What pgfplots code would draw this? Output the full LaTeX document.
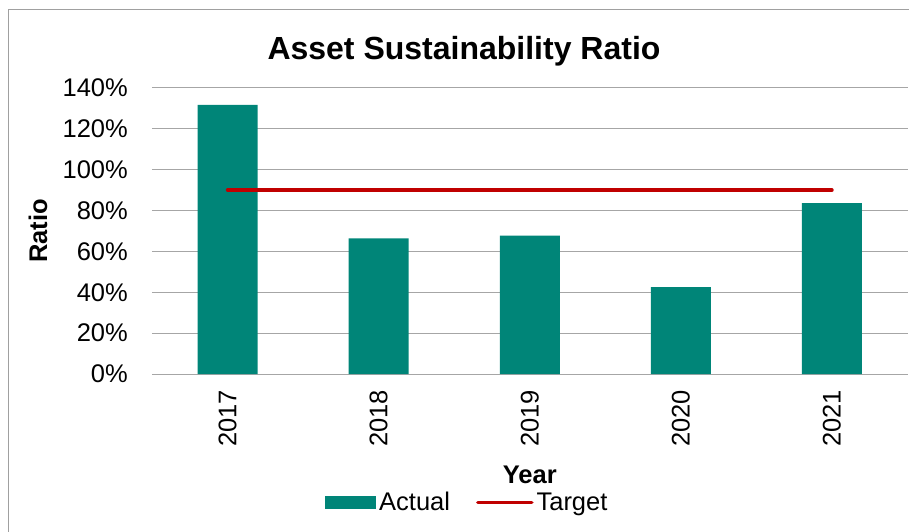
\documentclass[border=0pt]{standalone}
\usepackage{fontspec}
\setmainfont{Liberation Sans}
\usepackage{pgfplots}
\pgfplotsset{compat=1.18}

\definecolor{barteal}{RGB}{0,133,120}
\definecolor{targetred}{RGB}{192,0,0}
\definecolor{gridgray}{RGB}{166,166,166}
\definecolor{framegray}{RGB}{160,160,160}

\begin{document}
\begin{tikzpicture}
\begin{axis}[
    scale only axis,
    width=755.5pt, height=286pt,
    xmin=-0.5, xmax=4.5,
    ymin=0, ymax=140,
    xtick={0,1,2,3,4},
    xticklabels={2017,2018,2019,2020,2021},
    ytick={0,20,40,60,80,100,120,140},
    yticklabel={\pgfmathprintnumber{\tick}\%},
    /pgf/number format/assume math mode=true,
    font=\fontsize{25.5}{30}\selectfont,
    ymajorgrids,
    grid style={gridgray, line width=1pt},
    axis line style={draw=none},
    major tick length=0pt,
    yticklabel style={anchor=east, inner sep=0pt, xshift=-24pt},
    % rotated nodes: xshift runs along the text, i.e. downwards here
    xticklabel style={rotate=90, anchor=east, inner sep=0pt, xshift=-16pt},
    xlabel={\textbf{Year}},
    ylabel={\textbf{Ratio}},
    x label style={at={(axis description cs:0.5,0)}, anchor=base, yshift=-109pt},
    y label style={at={(axis description cs:0,0.5)}, anchor=center, yshift=114pt},
    legend style={
        at={(axis description cs:0.418,-0.449)}, anchor=center,
        draw=none, fill=none, legend columns=-1,
        nodes={inner sep=3pt},
        /tikz/every odd column/.append style={column sep=0pt},
        /tikz/every even column/.append style={column sep=23pt},
    },
]
\addplot[ybar, bar width=60pt, fill=barteal, draw=none,
    legend image code/.code={\fill[barteal] (0pt,-6.5pt) rectangle (51pt,6.5pt);}]
    coordinates {(0,131.8) (1,66.4) (2,67.7) (3,42.5) (4,83.7)};
\addlegendentry{Actual}
\addplot[targetred, line width=3.5pt, line cap=round, mark=none,
    legend image code/.code={\draw[targetred, line width=3.5pt] (0pt,0pt) -- (54pt,0pt);}]
    coordinates {(0,90) (4,90)};
\addlegendentry{Target}
\end{axis}
\useasboundingbox (-152pt,-158pt) rectangle (757pt,374pt);
\draw[framegray, line width=1pt] (-143pt,-160pt) -- (-143pt,364pt) -- (760pt,364pt);
\node[anchor=base, font=\fontsize{32}{38}\selectfont\bfseries] at (312pt,314.7pt) {Asset Sustainability Ratio};
\end{tikzpicture}
\end{document}
